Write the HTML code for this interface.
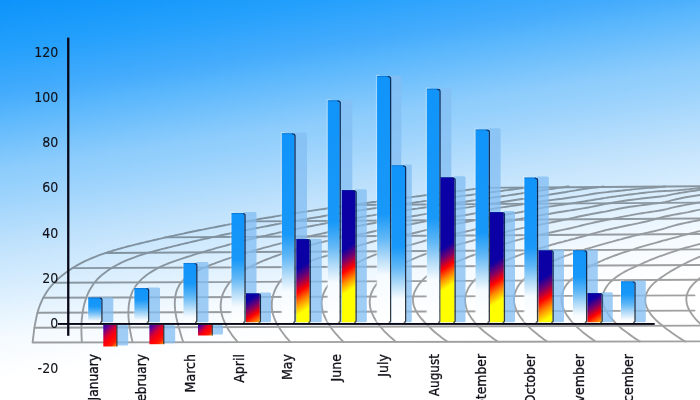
<!DOCTYPE html><html><head><meta charset="utf-8"><style>html,body{margin:0;padding:0;width:700px;height:400px;overflow:hidden;background:#fff}svg{display:block;will-change:transform}</style></head><body><svg width="700" height="400" viewBox="0 0 700 400"><defs><linearGradient id="bg" gradientUnits="userSpaceOnUse" x1="0" y1="0" x2="72.38" y2="482.54"><stop offset="0.0000" stop-color="rgb(12,147,250)"/><stop offset="0.1013" stop-color="rgb(36,160,252)"/><stop offset="0.1946" stop-color="rgb(70,172,252)"/><stop offset="0.2331" stop-color="rgb(88,182,252)"/><stop offset="0.3425" stop-color="rgb(140,204,252)"/><stop offset="0.3851" stop-color="rgb(152,209,252)"/><stop offset="0.4986" stop-color="rgb(192,226,252)"/><stop offset="0.6060" stop-color="rgb(222,240,254)"/><stop offset="0.6830" stop-color="rgb(244,250,255)"/><stop offset="0.7702" stop-color="rgb(255,255,255)"/></linearGradient><linearGradient id="gb" x1="0" y1="0" x2="0" y2="1"><stop offset="0" stop-color="#1094fa"/><stop offset="0.38" stop-color="#1697fa"/><stop offset="0.55" stop-color="#5ab5f8"/><stop offset="0.66" stop-color="#a8d6fa"/><stop offset="0.76" stop-color="#eef7ff"/><stop offset="1" stop-color="#ffffff"/></linearGradient><linearGradient id="gr" x1="0" y1="0" x2="0.12" y2="1"><stop offset="0" stop-color="#0a00a5"/><stop offset="0.42" stop-color="#0c00a2"/><stop offset="0.52" stop-color="#700070"/><stop offset="0.62" stop-color="#ff0000"/><stop offset="0.74" stop-color="#ff7a00"/><stop offset="0.84" stop-color="#ffff00"/><stop offset="1" stop-color="#ffff00"/></linearGradient><linearGradient id="gn" x1="0" y1="0" x2="1" y2="1"><stop offset="0" stop-color="#2a00a0"/><stop offset="0.35" stop-color="#c00040"/><stop offset="0.55" stop-color="#ff0000"/><stop offset="0.85" stop-color="#ff3000"/><stop offset="1" stop-color="#ffa000"/></linearGradient><linearGradient id="eg" x1="0" y1="0" x2="0" y2="1"><stop offset="0" stop-color="#0a2a5c"/><stop offset="0.5" stop-color="#142a48"/><stop offset="1" stop-color="#383838"/></linearGradient><linearGradient id="b1" gradientUnits="userSpaceOnUse" x1="0" y1="297.60" x2="0" y2="322.30"><stop offset="0" stop-color="#1094fa"/><stop offset="0.360" stop-color="#1898f8"/><stop offset="0.596" stop-color="#62b8f6"/><stop offset="0.785" stop-color="#b4dcf8"/><stop offset="0.950" stop-color="#f6fbff"/><stop offset="1" stop-color="#ffffff"/></linearGradient><linearGradient id="b2" gradientUnits="userSpaceOnUse" x1="0" y1="288.10" x2="0" y2="322.30"><stop offset="0" stop-color="#1094fa"/><stop offset="0.337" stop-color="#1898f8"/><stop offset="0.578" stop-color="#62b8f6"/><stop offset="0.770" stop-color="#b4dcf8"/><stop offset="0.939" stop-color="#f6fbff"/><stop offset="1" stop-color="#ffffff"/></linearGradient><linearGradient id="b3" gradientUnits="userSpaceOnUse" x1="0" y1="262.90" x2="0" y2="322.30"><stop offset="0" stop-color="#1094fa"/><stop offset="0.348" stop-color="#1898f8"/><stop offset="0.573" stop-color="#62b8f6"/><stop offset="0.753" stop-color="#b4dcf8"/><stop offset="0.911" stop-color="#f6fbff"/><stop offset="1" stop-color="#ffffff"/></linearGradient><linearGradient id="b4" gradientUnits="userSpaceOnUse" x1="0" y1="213.00" x2="0" y2="322.30"><stop offset="0" stop-color="#1094fa"/><stop offset="0.425" stop-color="#1898f8"/><stop offset="0.598" stop-color="#62b8f6"/><stop offset="0.737" stop-color="#b4dcf8"/><stop offset="0.858" stop-color="#f6fbff"/><stop offset="1" stop-color="#ffffff"/></linearGradient><linearGradient id="b5" gradientUnits="userSpaceOnUse" x1="0" y1="133.20" x2="0" y2="322.30"><stop offset="0" stop-color="#1094fa"/><stop offset="0.534" stop-color="#1898f8"/><stop offset="0.655" stop-color="#62b8f6"/><stop offset="0.751" stop-color="#b4dcf8"/><stop offset="0.836" stop-color="#f6fbff"/><stop offset="1" stop-color="#ffffff"/></linearGradient><linearGradient id="b6" gradientUnits="userSpaceOnUse" x1="0" y1="100.30" x2="0" y2="322.30"><stop offset="0" stop-color="#1094fa"/><stop offset="0.549" stop-color="#1898f8"/><stop offset="0.658" stop-color="#62b8f6"/><stop offset="0.745" stop-color="#b4dcf8"/><stop offset="0.821" stop-color="#f6fbff"/><stop offset="1" stop-color="#ffffff"/></linearGradient><linearGradient id="b7" gradientUnits="userSpaceOnUse" x1="0" y1="76.00" x2="0" y2="322.30"><stop offset="0" stop-color="#1094fa"/><stop offset="0.560" stop-color="#1898f8"/><stop offset="0.660" stop-color="#62b8f6"/><stop offset="0.740" stop-color="#b4dcf8"/><stop offset="0.810" stop-color="#f6fbff"/><stop offset="1" stop-color="#ffffff"/></linearGradient><linearGradient id="b8" gradientUnits="userSpaceOnUse" x1="0" y1="88.70" x2="0" y2="322.30"><stop offset="0" stop-color="#1094fa"/><stop offset="0.554" stop-color="#1898f8"/><stop offset="0.659" stop-color="#62b8f6"/><stop offset="0.742" stop-color="#b4dcf8"/><stop offset="0.816" stop-color="#f6fbff"/><stop offset="1" stop-color="#ffffff"/></linearGradient><linearGradient id="b9" gradientUnits="userSpaceOnUse" x1="0" y1="129.40" x2="0" y2="322.30"><stop offset="0" stop-color="#1094fa"/><stop offset="0.536" stop-color="#1898f8"/><stop offset="0.655" stop-color="#62b8f6"/><stop offset="0.751" stop-color="#b4dcf8"/><stop offset="0.834" stop-color="#f6fbff"/><stop offset="1" stop-color="#ffffff"/></linearGradient><linearGradient id="b10" gradientUnits="userSpaceOnUse" x1="0" y1="177.50" x2="0" y2="322.30"><stop offset="0" stop-color="#1094fa"/><stop offset="0.480" stop-color="#1898f8"/><stop offset="0.616" stop-color="#62b8f6"/><stop offset="0.725" stop-color="#b4dcf8"/><stop offset="0.820" stop-color="#f6fbff"/><stop offset="1" stop-color="#ffffff"/></linearGradient><linearGradient id="b11" gradientUnits="userSpaceOnUse" x1="0" y1="250.20" x2="0" y2="322.30"><stop offset="0" stop-color="#1094fa"/><stop offset="0.368" stop-color="#1898f8"/><stop offset="0.580" stop-color="#62b8f6"/><stop offset="0.749" stop-color="#b4dcf8"/><stop offset="0.897" stop-color="#f6fbff"/><stop offset="1" stop-color="#ffffff"/></linearGradient><linearGradient id="b12" gradientUnits="userSpaceOnUse" x1="0" y1="281.30" x2="0" y2="322.30"><stop offset="0" stop-color="#1094fa"/><stop offset="0.320" stop-color="#1898f8"/><stop offset="0.564" stop-color="#62b8f6"/><stop offset="0.759" stop-color="#b4dcf8"/><stop offset="0.930" stop-color="#f6fbff"/><stop offset="1" stop-color="#ffffff"/></linearGradient><linearGradient id="n13" gradientUnits="userSpaceOnUse" x1="103.30" y1="324.80" x2="120.75" y2="342.25"><stop offset="0" stop-color="#2000b0"/><stop offset="0.18" stop-color="#6a0090"/><stop offset="0.42" stop-color="#d80030"/><stop offset="0.6" stop-color="#ff0008"/><stop offset="0.82" stop-color="#ff1a00"/><stop offset="1" stop-color="#ff9a00"/></linearGradient><linearGradient id="n14" gradientUnits="userSpaceOnUse" x1="149.40" y1="324.80" x2="166.10" y2="341.50"><stop offset="0" stop-color="#2000b0"/><stop offset="0.18" stop-color="#6a0090"/><stop offset="0.42" stop-color="#d80030"/><stop offset="0.6" stop-color="#ff0008"/><stop offset="0.82" stop-color="#ff1a00"/><stop offset="1" stop-color="#ff9a00"/></linearGradient><linearGradient id="n15" gradientUnits="userSpaceOnUse" x1="198.00" y1="324.80" x2="210.25" y2="337.05"><stop offset="0" stop-color="#2000b0"/><stop offset="0.18" stop-color="#6a0090"/><stop offset="0.42" stop-color="#d80030"/><stop offset="0.6" stop-color="#ff0008"/><stop offset="0.82" stop-color="#ff1a00"/><stop offset="1" stop-color="#ff9a00"/></linearGradient><linearGradient id="r16" gradientUnits="userSpaceOnUse" x1="246.00" y1="293.20" x2="263.40" y2="319.96"><stop offset="0" stop-color="#0a00a5"/><stop offset="0.233" stop-color="#0c00a4"/><stop offset="0.469" stop-color="#78006c"/><stop offset="0.706" stop-color="#ff0000"/><stop offset="0.942" stop-color="#ff8c00"/><stop offset="1.000" stop-color="#ffff00"/><stop offset="1" stop-color="#ffff00"/></linearGradient><linearGradient id="r17" gradientUnits="userSpaceOnUse" x1="296.30" y1="239.10" x2="338.27" y2="303.67"><stop offset="0" stop-color="#0a00a5"/><stop offset="0.338" stop-color="#0c00a4"/><stop offset="0.463" stop-color="#78006c"/><stop offset="0.588" stop-color="#ff0000"/><stop offset="0.713" stop-color="#ff8c00"/><stop offset="0.838" stop-color="#ffff00"/><stop offset="1" stop-color="#ffff00"/></linearGradient><linearGradient id="r18" gradientUnits="userSpaceOnUse" x1="341.80" y1="190.00" x2="406.32" y2="289.27"><stop offset="0" stop-color="#0a00a5"/><stop offset="0.435" stop-color="#0c00a4"/><stop offset="0.513" stop-color="#78006c"/><stop offset="0.591" stop-color="#ff0000"/><stop offset="0.669" stop-color="#ff8c00"/><stop offset="0.747" stop-color="#ffff00"/><stop offset="1" stop-color="#ffff00"/></linearGradient><linearGradient id="b19" gradientUnits="userSpaceOnUse" x1="0" y1="165.20" x2="0" y2="322.30"><stop offset="0" stop-color="#1094fa"/><stop offset="0.520" stop-color="#1898f8"/><stop offset="0.652" stop-color="#62b8f6"/><stop offset="0.758" stop-color="#b4dcf8"/><stop offset="0.850" stop-color="#f6fbff"/><stop offset="1" stop-color="#ffffff"/></linearGradient><linearGradient id="r20" gradientUnits="userSpaceOnUse" x1="440.50" y1="177.20" x2="510.96" y2="285.60"><stop offset="0" stop-color="#0a00a5"/><stop offset="0.472" stop-color="#0c00a4"/><stop offset="0.540" stop-color="#78006c"/><stop offset="0.608" stop-color="#ff0000"/><stop offset="0.676" stop-color="#ff8c00"/><stop offset="0.744" stop-color="#ffff00"/><stop offset="1" stop-color="#ffff00"/></linearGradient><linearGradient id="r21" gradientUnits="userSpaceOnUse" x1="490.00" y1="212.00" x2="544.50" y2="295.85"><stop offset="0" stop-color="#0a00a5"/><stop offset="0.444" stop-color="#0c00a4"/><stop offset="0.532" stop-color="#78006c"/><stop offset="0.621" stop-color="#ff0000"/><stop offset="0.709" stop-color="#ff8c00"/><stop offset="0.797" stop-color="#ffff00"/><stop offset="1" stop-color="#ffff00"/></linearGradient><linearGradient id="r22" gradientUnits="userSpaceOnUse" x1="538.50" y1="250.30" x2="575.56" y2="307.31"><stop offset="0" stop-color="#0a00a5"/><stop offset="0.376" stop-color="#0c00a4"/><stop offset="0.511" stop-color="#78006c"/><stop offset="0.647" stop-color="#ff0000"/><stop offset="0.783" stop-color="#ff8c00"/><stop offset="0.918" stop-color="#ffff00"/><stop offset="1" stop-color="#ffff00"/></linearGradient><linearGradient id="r23" gradientUnits="userSpaceOnUse" x1="587.50" y1="293.00" x2="605.05" y2="319.99"><stop offset="0" stop-color="#0a00a5"/><stop offset="0.234" stop-color="#0c00a4"/><stop offset="0.469" stop-color="#78006c"/><stop offset="0.704" stop-color="#ff0000"/><stop offset="0.938" stop-color="#ff8c00"/><stop offset="1.000" stop-color="#ffff00"/><stop offset="1" stop-color="#ffff00"/></linearGradient></defs><rect x="0" y="0" width="700" height="400" fill="url(#bg)"/><g fill="none" stroke="#000" stroke-width="1.9" stroke-linecap="round" stroke-linejoin="round" opacity="0.37"><line x1="32.6" y1="342.44" x2="702.0" y2="341.40"/><line x1="34.5" y1="327.68" x2="702.0" y2="325.59"/><line x1="37.5" y1="312.77" x2="694.5" y2="310.62"/><line x1="43.3" y1="297.76" x2="694.5" y2="295.42"/><line x1="54.1" y1="282.78" x2="702.0" y2="279.74"/><line x1="72.4" y1="268.14" x2="702.0" y2="264.99"/><line x1="105.7" y1="252.93" x2="702.0" y2="249.39"/><line x1="166.1" y1="237.34" x2="702.0" y2="233.99"/><line x1="245.5" y1="221.48" x2="702.0" y2="218.49"/><line x1="351.6" y1="205.00" x2="702.0" y2="202.59"/><line x1="481.1" y1="187.87" x2="702.0" y2="186.29"/><path d="M32.7 341.7 L33.0 339.2 L33.3 336.7 L33.6 334.3 L33.9 331.7 L34.2 329.2 L34.6 326.7 L35.0 324.3 L35.5 321.8 L36.0 319.3 L36.5 316.8 L37.1 314.4 L37.7 312.0 L38.4 309.6 L39.2 307.3 L40.0 305.0 L41.3 302.0 L42.6 299.0 L44.1 296.2 L45.8 293.4 L47.5 290.8 L49.4 288.2 L51.5 285.7 L53.6 283.3 L55.8 281.0 L58.2 278.8 L60.6 276.7 L63.1 274.7 L65.6 272.7 L68.3 270.9 L70.9 269.1 L73.6 267.4 L76.4 265.7 L79.2 264.2 L82.1 262.7 L84.9 261.2 L87.9 259.9 L90.8 258.5 L93.8 257.3 L96.9 256.1 L99.2 255.2 L101.5 254.4 L103.8 253.6 L106.1 252.8 L108.5 252.0 L110.9 251.3 L113.2 250.5 L115.6 249.8 L118.0 249.1 L120.4 248.5 L122.8 247.8 L125.2 247.2 L127.6 246.5 L130.1 245.9 L132.5 245.3 L134.9 244.7 L137.3 244.1 L139.8 243.5 L142.2 242.9 L144.6 242.3 L147.0 241.7 L149.5 241.2 L151.9 240.6 L154.3 240.0 L156.7 239.5 L159.2 238.9 L161.6 238.4 L164.0 237.8 L166.4 237.3 L168.9 236.7 L171.3 236.2 L173.7 235.7 L176.1 235.1 L178.5 234.6 L181.0 234.1 L183.4 233.6 L185.8 233.0 L188.2 232.5 L190.6 232.0 L193.1 231.5 L195.5 231.0 L197.9 230.5 L200.3 230.0 L202.7 229.6 L205.1 229.1 L207.6 228.6 L210.0 228.1 L212.4 227.6 L214.8 227.2 L217.2 226.7 L219.6 226.2 L222.1 225.8 L224.5 225.3 L226.9 224.9 L229.3 224.4 L231.7 224.0 L234.1 223.5 L236.5 223.1 L239.0 222.7 L241.4 222.2 L243.8 221.8 L246.2 221.4 L248.6 220.9 L251.0 220.5 L253.5 220.1 L255.9 219.7 L258.3 219.3 L260.7 218.8 L263.1 218.4 L265.5 218.0 L268.8 217.5 L272.0 217.0 L275.2 216.4 L278.4 215.9 L281.6 215.4 L284.9 214.9 L288.1 214.3 L291.3 213.8 L294.5 213.3 L297.8 212.8 L301.0 212.3 L304.2 211.8 L307.4 211.4 L310.7 210.9 L313.9 210.4 L317.1 209.9 L320.4 209.4 L323.6 209.0 L326.8 208.5 L330.0 208.0 L332.5 207.7 L334.9 207.3 L337.3 207.0 L339.8 206.6 L342.2 206.3 L344.6 206.0 L347.0 205.6 L349.5 205.3 L351.9 205.0 L354.3 204.6 L356.8 204.3 L359.2 204.0 L361.6 203.6 L364.0 203.3 L366.5 203.0 L368.9 202.6 L371.4 202.3 L373.8 202.0 L376.2 201.7 L378.7 201.3 L381.1 201.0 L383.5 200.7 L386.0 200.4 L388.4 200.1 L390.9 199.7 L393.3 199.4 L395.7 199.1 L398.2 198.8 L400.6 198.5 L403.1 198.1 L405.5 197.8 L408.0 197.5 L410.4 197.2 L412.9 196.9 L415.3 196.6 L417.8 196.3 L420.2 196.0 L422.7 195.6 L425.1 195.3 L427.6 195.0 L430.1 194.7 L432.5 194.4 L435.0 194.1 L437.4 193.8 L439.9 193.5 L442.4 193.2 L444.8 192.8 L447.3 192.5 L449.8 192.2 L452.2 191.9 L454.7 191.6 L457.2 191.3 L459.6 191.0 L462.1 190.7 L464.6 190.4 L468.8 189.8 L471.3 189.4 L473.9 189.0 L476.5 188.6 L479.1 188.2 L481.6 187.8 L484.2 187.4 L486.8 187.0 L489.4 186.6"/><path d="M81.9 342.0 L81.7 339.6 L81.6 337.1 L81.5 334.5 L81.4 332.0 L81.4 329.5 L81.4 326.9 L81.5 324.3 L81.6 321.7 L81.8 319.2 L82.1 316.6 L82.4 314.1 L82.8 311.5 L83.2 309.0 L83.7 306.6 L84.3 304.1 L85.0 301.7 L85.7 299.3 L86.6 297.0 L87.5 294.7 L88.8 291.7 L90.3 288.9 L92.0 286.2 L93.8 283.5 L95.8 281.1 L97.9 278.7 L100.2 276.5 L102.6 274.4 L105.2 272.4 L107.8 270.5 L110.5 268.7 L112.6 267.4 L114.8 266.2 L116.9 265.0 L119.1 263.8 L121.4 262.7 L123.6 261.7 L125.9 260.7 L128.2 259.7 L130.5 258.8 L132.8 257.9 L135.2 257.1 L137.5 256.2 L139.9 255.4 L142.2 254.7 L144.6 253.9 L147.0 253.2 L149.4 252.5 L151.8 251.8 L154.3 251.1 L156.7 250.5 L159.1 249.8 L161.5 249.2 L164.0 248.6 L166.4 248.0 L168.9 247.4 L171.3 246.8 L173.7 246.2 L176.2 245.6 L178.6 245.0 L181.0 244.4 L183.5 243.8 L185.9 243.2 L188.4 242.7 L190.8 242.1 L193.2 241.5 L195.7 241.0 L198.1 240.4 L200.5 239.8 L203.0 239.3 L205.4 238.7 L207.9 238.2 L210.3 237.7 L212.7 237.1 L215.2 236.6 L217.6 236.1 L220.1 235.5 L222.5 235.0 L224.9 234.5 L227.4 234.0 L229.8 233.5 L232.3 232.9 L234.7 232.4 L237.1 231.9 L239.6 231.4 L242.0 230.9 L244.5 230.5 L246.9 230.0 L249.3 229.5 L251.8 229.0 L254.2 228.5 L256.7 228.0 L259.1 227.6 L261.6 227.1 L264.0 226.6 L266.4 226.2 L268.9 225.7 L271.3 225.2 L273.8 224.8 L276.2 224.3 L278.7 223.9 L281.1 223.4 L283.6 223.0 L286.0 222.6 L288.4 222.1 L290.9 221.7 L293.3 221.3 L295.8 220.8 L298.2 220.4 L300.7 220.0 L303.1 219.5 L305.6 219.1 L308.0 218.7 L310.5 218.3 L312.9 217.9 L315.4 217.5 L317.8 217.1 L320.3 216.7 L322.7 216.2 L325.2 215.8 L327.6 215.4 L330.1 215.0 L332.5 214.7 L335.0 214.3 L337.4 213.9 L339.9 213.5 L342.3 213.1 L344.8 212.7 L347.2 212.3 L349.7 211.9 L352.1 211.6 L354.6 211.2 L357.1 210.8 L359.5 210.4 L362.0 210.1 L364.4 209.7 L366.9 209.3 L369.3 209.0 L371.8 208.6 L374.3 208.2 L376.7 207.9 L379.2 207.5 L381.6 207.2 L384.1 206.8 L386.5 206.4 L389.0 206.1 L391.5 205.7 L393.9 205.4 L396.4 205.0 L398.9 204.7 L401.3 204.3 L403.8 204.0 L406.2 203.6 L408.7 203.3 L411.2 203.0 L413.6 202.6 L416.1 202.3 L418.6 201.9 L421.0 201.6 L423.5 201.2 L426.0 200.9 L428.4 200.6 L430.9 200.2 L433.4 199.9 L435.8 199.6 L438.3 199.2 L440.8 198.9 L443.2 198.6 L445.7 198.2 L448.2 197.9 L450.7 197.6 L453.1 197.3 L455.6 196.9 L458.1 196.6 L460.6 196.3 L463.0 195.9 L465.5 195.6 L468.0 195.3 L470.5 195.0 L472.9 194.6 L475.4 194.3 L477.9 194.0 L480.4 193.7 L482.9 193.3 L485.3 193.0 L487.8 192.7 L490.3 192.4 L492.8 192.0 L495.3 191.7 L497.7 191.4 L500.2 191.1 L502.7 190.8 L505.2 190.4 L507.7 190.1 L510.2 189.8 L512.7 189.5 L515.1 189.1 L517.8 188.7 L520.4 188.4 L523.1 188.0 L525.7 187.6 L528.4 187.2 L531.1 186.8 L533.8 186.4"/><path d="M132.4 341.5 L131.7 338.6 L131.1 335.7 L130.5 332.8 L130.0 329.8 L129.5 326.7 L129.1 323.6 L128.8 320.5 L128.5 317.4 L128.4 314.3 L128.4 311.2 L128.6 308.1 L128.8 305.1 L129.3 302.1 L129.9 299.2 L130.6 296.4 L131.6 293.6 L132.7 291.0 L134.1 288.5 L135.7 286.0 L137.4 283.7 L139.4 281.5 L141.4 279.4 L143.7 277.4 L146.0 275.5 L148.4 273.8 L150.9 272.1 L153.4 270.6 L156.0 269.1 L158.7 267.7 L161.4 266.4 L164.1 265.2 L166.9 264.0 L169.7 262.9 L172.6 261.8 L175.4 260.8 L178.3 259.8 L181.2 258.9 L184.1 257.9 L187.0 257.0 L189.9 256.1 L192.8 255.1 L195.7 254.2 L198.6 253.4 L201.5 252.5 L204.4 251.6 L207.3 250.7 L210.2 249.9 L213.1 249.1 L216.0 248.2 L218.9 247.4 L221.8 246.6 L224.8 245.8 L227.7 245.0 L230.6 244.2 L233.5 243.5 L236.4 242.7 L239.4 242.0 L242.3 241.2 L245.2 240.5 L248.2 239.7 L251.1 239.0 L254.0 238.3 L257.0 237.6 L259.9 236.9 L262.8 236.2 L265.8 235.6 L268.7 234.9 L271.7 234.2 L274.6 233.6 L277.6 232.9 L280.5 232.3 L283.4 231.6 L286.4 231.0 L289.3 230.4 L292.3 229.8 L295.2 229.2 L298.2 228.6 L301.2 228.0 L304.1 227.4 L307.1 226.8 L310.0 226.3 L313.0 225.7 L316.0 225.1 L318.9 224.6 L321.9 224.0 L324.8 223.5 L327.8 222.9 L330.8 222.4 L333.7 221.9 L336.7 221.3 L339.7 220.8 L342.6 220.3 L345.6 219.8 L348.6 219.3 L351.6 218.8 L354.5 218.3 L357.5 217.8 L360.5 217.3 L363.5 216.8 L366.4 216.3 L369.4 215.8 L372.4 215.4 L375.4 214.9 L378.3 214.4 L381.3 214.0 L384.3 213.5 L387.3 213.0 L390.3 212.6 L393.2 212.1 L396.2 211.7 L399.2 211.2 L402.2 210.8 L405.2 210.3 L408.2 209.9 L411.2 209.4 L414.1 209.0 L417.1 208.6 L420.1 208.1 L423.1 207.7 L426.1 207.3 L429.1 206.8 L432.1 206.4 L435.0 206.0 L438.0 205.5 L441.0 205.1 L444.0 204.7 L447.0 204.2 L450.0 203.8 L453.0 203.4 L456.0 203.0 L459.0 202.5 L461.9 202.1 L464.9 201.7 L467.9 201.2 L470.9 200.8 L473.9 200.4 L476.9 200.0 L479.9 199.5 L482.9 199.1 L485.9 198.7 L488.9 198.2 L491.8 197.8 L494.8 197.3 L497.8 196.9 L500.8 196.5 L503.8 196.0 L506.8 195.6 L509.8 195.1 L512.8 194.7 L517.5 194.0 L520.0 193.6 L522.5 193.2 L525.0 192.8 L527.5 192.5 L530.0 192.1 L532.5 191.7 L535.1 191.3 L537.6 191.0 L540.1 190.6 L542.7 190.2 L545.3 189.8 L547.9 189.4 L550.4 189.1 L553.0 188.7 L555.6 188.3 L558.2 187.9 L560.9 187.6 L563.5 187.2 L566.1 186.8 L568.8 186.4"/><path d="M183.0 341.6 L182.2 338.9 L181.3 336.0 L180.4 333.0 L179.5 329.8 L178.8 327.4 L178.1 325.0 L177.5 322.5 L176.9 319.9 L176.3 317.4 L175.9 314.8 L175.5 312.3 L175.1 309.7 L174.9 307.2 L174.8 304.7 L174.8 302.3 L175.0 299.1 L175.4 296.0 L176.0 293.0 L176.9 290.1 L178.1 287.4 L179.5 284.8 L181.1 282.5 L183.1 280.3 L185.2 278.3 L187.6 276.4 L190.1 274.7 L192.8 273.1 L195.6 271.6 L198.5 270.1 L201.4 268.8 L203.7 267.8 L206.0 266.9 L208.2 265.9 L211.3 264.7 L214.3 263.6 L217.3 262.4 L220.4 261.3 L223.5 260.2 L226.5 259.2 L229.6 258.1 L232.6 257.1 L235.7 256.1 L238.8 255.1 L241.9 254.2 L245.0 253.3 L248.0 252.3 L251.1 251.4 L254.2 250.5 L257.3 249.7 L260.4 248.8 L263.5 247.9 L266.6 247.1 L269.7 246.3 L272.8 245.4 L275.9 244.6 L279.0 243.8 L282.1 243.0 L285.2 242.2 L288.3 241.4 L291.5 240.7 L294.6 239.9 L297.7 239.1 L300.8 238.4 L303.9 237.6 L307.1 236.9 L310.2 236.2 L313.3 235.5 L316.4 234.8 L319.6 234.1 L322.7 233.4 L325.8 232.7 L329.0 232.0 L332.1 231.4 L335.2 230.7 L338.4 230.0 L341.5 229.4 L344.6 228.7 L347.8 228.1 L350.9 227.5 L354.1 226.9 L357.2 226.2 L360.4 225.6 L363.5 225.0 L366.7 224.4 L369.8 223.8 L373.0 223.2 L376.1 222.6 L379.3 222.1 L382.4 221.5 L385.6 220.9 L388.7 220.4 L391.9 219.8 L395.0 219.2 L398.2 218.7 L401.4 218.1 L404.5 217.6 L407.7 217.1 L410.8 216.5 L414.0 216.0 L417.2 215.5 L420.3 214.9 L423.5 214.4 L426.6 213.9 L429.8 213.4 L433.0 212.9 L436.1 212.4 L439.3 211.8 L442.5 211.3 L445.6 210.8 L448.8 210.3 L452.0 209.8 L455.2 209.3 L458.3 208.8 L461.5 208.3 L464.7 207.8 L467.8 207.4 L471.0 206.9 L474.2 206.4 L477.3 205.9 L480.5 205.4 L483.7 204.9 L486.9 204.4 L490.0 203.9 L493.2 203.4 L496.4 203.0 L499.5 202.5 L502.7 202.0 L505.9 201.5 L509.1 201.0 L512.2 200.5 L515.4 200.0 L518.6 199.5 L521.7 199.0 L524.9 198.6 L528.1 198.1 L531.2 197.6 L534.4 197.1 L537.6 196.6 L540.8 196.1 L543.9 195.6 L547.1 195.1 L550.3 194.5 L553.4 194.0 L556.6 193.5 L559.8 193.0 L562.9 192.5 L566.1 192.0 L569.2 191.4 L572.4 190.9 L575.6 190.4 L578.7 189.8 L581.9 189.3 L585.1 188.8 L587.6 188.5 L590.2 188.1 L592.8 187.8 L595.5 187.5 L598.1 187.2 L600.7 186.9 L603.4 186.5"/><path d="M237.3 341.6 L235.3 339.2 L233.4 336.9 L231.7 334.6 L230.2 332.3 L228.7 330.0 L227.5 327.8 L226.3 325.7 L224.9 322.9 L223.7 320.1 L222.7 317.5 L221.9 314.9 L221.3 312.4 L220.9 309.8 L220.7 307.3 L220.7 304.3 L221.0 301.3 L221.5 298.3 L222.4 295.4 L223.2 293.1 L224.3 290.8 L225.5 288.5 L226.9 286.2 L228.4 284.0 L230.2 281.8 L232.1 279.7 L234.2 277.6 L236.5 275.6 L239.0 273.6 L241.0 272.2 L243.2 270.8 L245.4 269.5 L247.7 268.2 L250.1 266.9 L252.6 265.6 L255.3 264.3 L257.9 263.1 L260.7 261.9 L263.6 260.7 L266.5 259.5 L269.5 258.4 L272.6 257.2 L275.8 256.0 L279.0 254.9 L282.3 253.7 L285.7 252.6 L289.1 251.4 L292.6 250.2 L295.0 249.5 L297.4 248.8 L299.9 248.1 L302.4 247.5 L304.9 246.7 L307.4 246.0 L309.9 245.3 L312.5 244.6 L315.1 243.9 L317.8 243.2 L320.4 242.5 L323.2 241.9 L325.9 241.2 L328.7 240.6 L331.5 240.0 L334.4 239.4 L337.3 238.8 L340.2 238.2 L343.1 237.6 L346.1 237.0 L349.1 236.5 L352.2 235.9 L355.2 235.3 L358.3 234.7 L361.5 234.0 L364.6 233.4 L367.8 232.7 L371.0 232.0 L374.2 231.3 L377.5 230.5 L380.8 229.8 L384.1 229.0 L387.4 228.2 L390.8 227.4 L394.3 226.9 L397.8 226.4 L401.3 225.8 L404.8 225.3 L408.4 224.6 L412.0 224.0 L415.6 223.3 L419.2 222.6 L422.9 221.8 L426.6 221.0 L430.3 220.1 L434.0 219.3 L437.9 218.5 L441.8 218.0 L445.9 217.6 L449.9 217.2 L453.9 216.7 L457.9 216.2 L462.0 215.6 L466.0 215.0 L470.0 214.3 L474.0 213.5 L478.0 212.7 L482.0 211.7 L485.9 210.7 L489.8 209.5 L493.8 208.8 L497.8 208.0 L502.0 207.4 L506.3 206.8 L510.6 206.1 L515.0 205.5 L519.5 204.8 L524.0 204.1 L528.7 203.3 L533.4 202.5 L538.2 201.7 L540.7 201.4 L543.1 201.1 L545.5 200.8 L548.0 200.5 L552.8 199.9 L557.6 199.3 L562.4 198.7 L567.1 198.0 L571.9 197.3 L576.6 196.6 L581.4 195.9 L586.1 195.1 L590.8 194.3 L595.3 193.5 L599.8 192.9 L604.6 192.4 L607.1 192.1 L609.5 191.8 L612.0 191.5 L614.6 191.3 L617.1 191.0 L619.7 190.7 L622.2 190.5 L624.8 190.2 L627.5 189.9 L630.1 189.7 L632.7 189.4 L635.4 189.1 L638.1 188.9 L640.8 188.6 L643.6 188.3 L646.3 188.1 L649.0 187.9 L651.7 187.7 L654.4 187.5 L657.2 187.3 L659.9 187.0 L662.7 186.8 L665.4 186.5"/><path d="M290.0 341.6 L287.8 339.2 L285.8 336.8 L284.0 334.5 L282.3 332.2 L280.7 330.0 L279.3 327.8 L278.0 325.7 L276.4 322.9 L275.1 320.2 L274.1 317.6 L273.2 315.0 L272.5 312.5 L272.1 310.0 L271.8 307.5 L271.8 304.4 L271.9 301.4 L272.4 298.4 L273.0 295.5 L274.0 292.6 L274.9 290.3 L275.9 288.0 L277.2 285.7 L278.6 283.4 L280.1 281.2 L281.9 279.1 L283.9 277.0 L286.0 275.0 L288.4 273.0 L291.0 271.2 L293.1 269.8 L295.3 268.5 L297.6 267.2 L300.0 265.9 L302.5 264.7 L305.1 263.4 L307.8 262.3 L310.6 261.1 L313.4 259.9 L316.4 258.8 L319.5 257.8 L322.8 256.9 L326.2 256.0 L329.5 255.0 L332.9 253.8 L336.2 252.7 L339.7 251.5 L343.2 250.4 L345.5 249.6 L347.9 248.8 L350.4 248.1 L352.9 247.3 L355.4 246.6 L357.9 245.8 L360.5 245.0 L363.0 244.3 L365.7 243.5 L368.3 242.8 L371.0 242.0 L373.7 241.3 L376.4 240.6 L379.2 239.9 L382.0 239.2 L384.8 238.6 L387.7 237.9 L390.6 237.3 L393.5 236.8 L396.5 236.4 L399.6 235.9 L402.7 235.3 L405.7 234.8 L408.9 234.1 L412.0 233.5 L415.2 232.7 L418.3 232.0 L421.6 231.2 L424.8 230.4 L428.0 229.6 L431.3 228.8 L434.6 227.9 L437.8 227.0 L441.2 226.3 L444.6 225.7 L448.1 225.1 L451.6 224.5 L455.1 223.9 L458.7 223.3 L462.4 222.7 L466.0 222.0 L469.7 221.3 L473.4 220.6 L477.2 219.8 L481.0 219.0 L484.8 218.1 L488.7 217.2 L492.7 216.5 L496.8 215.9 L500.8 215.2 L504.8 214.6 L508.9 214.0 L512.9 213.3 L517.0 212.7 L521.1 212.0 L525.1 211.2 L529.1 210.4 L533.1 209.6 L537.0 208.7 L541.0 208.0 L545.0 207.3 L549.2 206.6 L553.5 206.0 L557.8 205.3 L562.2 204.7 L566.7 204.0 L571.3 203.4 L575.9 202.7 L580.5 202.0 L585.3 201.2 L587.7 200.8 L590.2 200.4 L592.7 200.0 L595.3 199.5 L597.8 199.1 L600.4 198.7 L602.9 198.2 L605.4 197.9 L607.9 197.5 L610.3 197.1 L612.8 196.8 L615.2 196.5 L617.7 196.1 L620.1 195.8 L622.6 195.5 L625.1 195.1 L627.5 194.8 L630.0 194.5 L632.5 194.2 L634.9 193.9 L637.4 193.6 L639.9 193.3 L642.4 193.0 L644.9 192.7 L647.4 192.4 L649.8 192.1 L652.3 191.9 L654.9 191.6 L657.4 191.4 L659.9 191.2 L662.4 191.1 L665.0 191.0 L667.6 190.9 L670.3 190.8 L673.0 190.6 L675.7 190.4 L678.4 190.2 L681.1 189.9 L683.8 189.7 L686.5 189.4 L689.2 189.2 L691.9 188.9 L694.6 188.6 L697.3 188.3 L700.0 188.0"/><path d="M343.6 342.0 L341.2 339.6 L338.9 337.2 L336.9 334.9 L334.9 332.7 L333.2 330.5 L331.5 328.3 L330.0 326.1 L328.7 324.0 L327.0 321.3 L325.6 318.6 L324.4 316.0 L323.4 313.5 L322.7 311.0 L322.1 308.5 L321.7 305.6 L321.6 302.7 L321.8 299.8 L322.4 297.0 L323.2 294.3 L324.3 291.7 L325.7 289.0 L327.3 286.5 L328.8 284.5 L330.4 282.5 L332.2 280.4 L334.1 278.4 L336.3 276.4 L338.7 274.5 L341.2 272.6 L343.2 271.1 L345.3 269.7 L347.5 268.3 L349.7 266.9 L352.1 265.5 L354.5 264.2 L357.1 262.8 L359.7 261.5 L362.4 260.2 L365.2 258.9 L368.0 257.6 L371.0 256.3 L374.1 255.1 L377.2 254.0 L380.5 252.9 L383.8 251.8 L387.3 250.9 L390.8 250.0 L393.2 249.4 L395.6 248.8 L398.0 248.2 L400.5 247.6 L403.0 246.9 L405.5 246.2 L408.1 245.5 L410.7 244.8 L413.3 244.1 L416.0 243.3 L418.6 242.6 L421.4 241.8 L424.1 241.0 L426.9 240.2 L429.7 239.4 L432.6 238.7 L435.5 237.9 L438.4 237.2 L441.3 236.6 L444.3 236.0 L447.3 235.4 L450.3 234.8 L453.4 234.2 L456.5 233.5 L459.6 232.9 L462.8 232.2 L466.0 231.5 L469.3 230.8 L472.5 230.0 L475.9 229.3 L479.2 228.5 L482.6 227.7 L486.1 226.9 L489.5 226.1 L493.0 225.3 L496.6 224.5 L500.1 223.6 L503.7 222.8 L507.4 221.9 L511.1 221.0 L514.9 220.0 L518.7 219.2 L522.5 218.4 L526.3 217.7 L530.2 217.0 L534.0 216.4 L538.0 215.7 L541.9 215.0 L545.9 214.3 L549.9 213.7 L553.9 213.0 L558.0 212.3 L562.0 211.7 L566.2 211.0 L570.3 210.4 L574.4 209.7 L578.6 209.1 L582.9 208.4 L587.1 207.7 L591.4 206.9 L595.8 206.0 L600.3 205.0 L604.8 204.1 L609.4 203.2 L613.9 202.5 L618.5 201.7 L623.1 201.0 L627.7 200.3 L632.3 199.7 L637.0 199.1 L641.6 198.5 L646.3 198.0 L651.0 197.5 L655.7 197.0 L660.4 196.5 L665.1 195.9 L669.9 194.9 L672.3 194.4 L674.8 193.9 L677.2 193.5 L679.7 193.0 L682.2 192.6 L684.7 192.2 L687.2 191.8 L689.8 191.4 L692.3 191.0 L694.9 190.7 L697.4 190.3 L700.0 190.0"/><path d="M395.7 341.6 L393.0 339.3 L390.4 337.1 L388.1 334.9 L385.9 332.8 L383.8 330.6 L382.0 328.5 L380.2 326.5 L378.6 324.4 L377.2 322.4 L375.4 319.8 L373.9 317.2 L372.7 314.7 L371.6 312.3 L370.8 309.8 L370.2 307.5 L369.8 304.5 L369.7 301.7 L369.9 298.9 L370.4 296.1 L371.2 293.5 L372.4 290.8 L373.7 288.2 L375.4 285.7 L376.9 283.7 L378.5 281.7 L380.4 279.7 L382.5 277.7 L384.7 275.8 L387.1 273.9 L389.6 272.0 L391.7 270.6 L393.8 269.2 L396.0 267.8 L398.3 266.5 L400.7 265.1 L403.1 263.8 L405.7 262.5 L408.3 261.2 L411.1 259.9 L413.9 258.7 L416.8 257.4 L419.8 256.2 L422.9 255.0 L426.0 253.8 L429.3 252.7 L432.6 251.6 L436.0 250.6 L439.5 249.7 L443.1 248.8 L445.5 248.2 L447.9 247.5 L450.4 246.9 L452.9 246.2 L455.5 245.4 L458.0 244.7 L460.7 244.0 L463.3 243.2 L466.0 242.5 L468.7 241.7 L471.5 241.0 L474.3 240.2 L477.1 239.4 L480.0 238.7 L482.9 237.9 L485.9 237.1 L488.9 236.3 L491.9 235.5 L494.9 234.7 L498.0 233.9 L501.1 233.1 L504.3 232.3 L507.5 231.5 L510.8 230.7 L514.2 229.9 L517.6 229.1 L521.0 228.4 L524.4 227.7 L527.8 227.0 L531.2 226.4 L534.7 225.7 L538.2 225.0 L541.8 224.3 L545.3 223.6 L548.9 222.9 L552.5 222.2 L556.1 221.5 L559.7 220.8 L563.3 220.0 L566.9 219.2 L570.5 218.4 L574.1 217.6 L577.8 216.8 L581.5 216.0 L585.3 215.2 L589.2 214.5 L593.1 213.8 L597.1 213.0 L601.1 212.3 L605.2 211.6 L609.3 210.8 L613.3 209.9 L617.4 209.0 L621.5 208.2 L625.7 207.5 L630.0 206.8 L634.3 206.2 L638.8 205.6 L643.2 205.0 L647.7 204.5 L652.3 203.9 L657.0 203.4 L661.8 202.7 L664.2 202.3 L666.7 201.7 L669.1 201.1 L671.4 200.4 L676.2 199.3 L680.9 198.3 L685.6 197.3 L690.4 196.5 L695.2 195.7 L700.0 195.0"/><path d="M447.0 341.4 L445.0 340.0 L442.1 337.9 L439.4 335.8 L436.8 333.8 L434.4 331.7 L432.2 329.7 L430.1 327.7 L428.1 325.7 L426.2 323.8 L424.3 321.9 L422.6 320.0 L420.5 317.6 L418.7 315.2 L417.1 312.9 L415.8 310.5 L414.7 308.2 L413.7 305.3 L413.1 302.5 L412.9 299.7 L413.2 296.9 L413.8 294.2 L414.7 291.5 L416.1 288.9 L417.6 286.3 L419.1 284.2 L420.8 282.2 L422.6 280.2 L424.6 278.2 L426.8 276.3 L429.2 274.5 L431.7 272.7 L434.5 271.0 L436.6 269.8 L438.9 268.6 L441.3 267.5 L443.7 266.5 L446.2 265.5 L448.9 264.5 L451.5 263.6 L454.3 262.5 L457.1 261.5 L460.0 260.3 L463.0 259.2 L466.0 258.0 L469.1 256.7 L472.3 255.5 L475.5 254.3 L478.9 253.0 L482.3 251.7 L484.6 250.9 L487.0 250.0 L489.4 249.2 L491.8 248.3 L494.3 247.4 L496.8 246.6 L499.3 245.7 L501.9 244.9 L504.5 244.0 L507.2 243.1 L509.9 242.3 L512.6 241.4 L515.5 240.6 L518.3 239.8 L521.2 239.1 L524.1 238.4 L527.1 237.7 L530.1 237.0 L533.1 236.3 L536.1 235.7 L539.2 235.0 L542.3 234.3 L545.5 233.6 L548.7 232.9 L551.9 232.2 L555.1 231.5 L558.4 230.8 L561.6 230.1 L564.9 229.4 L568.2 228.7 L571.6 228.0 L574.9 227.2 L578.2 226.4 L581.5 225.5 L584.8 224.7 L588.2 223.9 L591.7 223.1 L595.2 222.3 L598.9 221.5 L602.6 220.8 L606.3 220.0 L610.1 219.3 L614.0 218.5 L617.9 217.7 L621.8 216.9 L625.8 216.1 L629.8 215.4 L633.8 214.6 L637.9 213.9 L641.9 213.3 L646.0 212.6 L650.1 212.0 L654.3 211.4 L658.5 210.8 L662.7 210.0 L666.9 209.1 L671.2 207.9 L675.5 206.9 L679.9 206.0 L684.3 205.1 L688.7 204.3 L693.2 203.5 L697.7 202.8 L700.0 202.5"/><path d="M497.1 341.1 L495.0 339.7 L492.0 337.6 L489.2 335.5 L486.6 333.5 L484.1 331.5 L481.8 329.5 L479.7 327.5 L477.7 325.6 L475.9 323.6 L474.2 321.7 L472.2 319.2 L470.5 316.7 L469.0 314.3 L467.8 311.9 L466.8 309.5 L466.1 307.2 L465.4 304.3 L465.1 301.5 L465.1 298.8 L465.4 296.1 L466.1 293.4 L467.1 290.8 L468.3 288.3 L469.9 285.8 L471.7 283.3 L473.4 281.4 L475.2 279.5 L477.2 277.6 L479.4 275.7 L481.8 273.9 L484.3 272.1 L487.0 270.3 L489.2 269.0 L491.4 267.7 L493.7 266.4 L496.1 265.1 L498.7 263.8 L501.2 262.6 L503.9 261.3 L506.7 260.1 L509.6 258.9 L512.5 257.7 L515.6 256.5 L518.7 255.3 L521.9 254.1 L525.2 253.0 L528.6 251.8 L532.1 250.7 L534.5 249.9 L536.8 249.2 L539.3 248.4 L541.8 247.7 L544.3 247.0 L546.8 246.2 L549.4 245.5 L552.0 244.7 L554.6 244.0 L557.3 243.2 L560.0 242.5 L562.7 241.8 L565.5 241.0 L568.3 240.3 L571.1 239.5 L574.0 238.8 L576.9 238.0 L579.8 237.2 L582.8 236.5 L585.8 235.7 L588.8 234.9 L591.8 234.0 L594.9 233.1 L598.1 232.2 L601.3 231.3 L604.5 230.5 L607.8 229.7 L611.1 229.0 L614.5 228.2 L617.9 227.5 L621.3 226.7 L624.8 226.0 L628.2 225.3 L631.8 224.6 L635.3 223.9 L638.9 223.1 L642.5 222.3 L646.2 221.5 L649.9 220.6 L653.7 219.6 L657.5 218.5 L661.3 217.5 L665.1 216.5 L668.9 215.7 L672.8 214.9 L676.6 214.2 L680.5 213.5 L684.4 212.9 L688.3 212.1 L692.2 211.2 L696.2 210.4 L700.2 209.6"/><path d="M546.2 340.9 L544.1 339.5 L541.2 337.3 L538.5 335.2 L535.9 333.1 L533.4 331.1 L531.2 329.1 L529.0 327.1 L527.1 325.1 L525.3 323.1 L523.6 321.2 L521.6 318.7 L519.8 316.2 L518.3 313.8 L517.0 311.4 L516.0 309.1 L515.0 306.2 L514.3 303.4 L514.0 300.6 L514.1 297.9 L514.4 295.3 L515.1 292.7 L516.0 290.1 L517.3 287.6 L518.8 285.1 L520.7 282.7 L522.4 280.8 L524.2 278.9 L526.3 277.1 L528.5 275.2 L530.9 273.4 L533.4 271.6 L536.2 269.9 L538.3 268.6 L540.6 267.3 L542.9 266.0 L545.3 264.7 L547.9 263.5 L550.5 262.2 L553.2 261.0 L556.0 259.8 L558.8 258.6 L561.8 257.4 L564.8 256.2 L568.0 255.1 L571.2 253.9 L574.5 252.8 L577.9 251.6 L581.4 250.5 L583.7 249.8 L586.1 249.0 L588.5 248.3 L591.0 247.6 L593.5 246.8 L596.1 246.1 L598.6 245.4 L601.3 244.6 L603.9 243.9 L606.6 243.1 L609.4 242.3 L612.2 241.6 L615.0 240.8 L617.8 240.0 L620.7 239.3 L623.7 238.5 L626.7 237.7 L629.7 237.0 L632.7 236.2 L635.8 235.4 L639.0 234.7 L642.1 233.9 L645.3 233.2 L648.5 232.5 L651.7 231.7 L655.0 231.0 L658.3 230.2 L661.6 229.3 L664.8 228.4 L668.1 227.3 L671.4 226.3 L674.8 225.4 L678.2 224.5 L681.7 223.7 L685.3 222.9 L688.9 222.2 L692.6 221.4 L696.3 220.7 L700.0 220.0 L701.9 219.7"/><path d="M594.8 341.0 L592.7 339.5 L590.7 338.1 L587.8 336.0 L585.1 333.9 L582.5 331.9 L580.2 329.9 L577.9 327.9 L575.9 325.9 L573.9 323.9 L572.2 322.0 L570.5 320.1 L568.6 317.6 L566.9 315.2 L565.4 312.8 L564.2 310.5 L563.2 308.2 L562.3 305.3 L561.7 302.5 L561.5 299.8 L561.6 297.2 L562.0 294.6 L562.7 292.0 L563.7 289.5 L565.0 287.1 L566.6 284.6 L568.5 282.3 L570.3 280.4 L572.2 278.6 L574.2 276.7 L576.5 274.9 L578.9 273.2 L581.5 271.4 L584.3 269.7 L586.5 268.4 L588.7 267.1 L591.1 265.9 L593.5 264.6 L596.1 263.4 L598.7 262.2 L601.4 261.0 L604.2 259.7 L607.0 258.5 L610.0 257.4 L613.1 256.2 L616.3 255.0 L619.5 253.9 L622.9 252.7 L626.3 251.5 L628.7 250.8 L631.1 250.0 L633.5 249.3 L636.0 248.5 L638.5 247.7 L641.0 246.9 L643.6 246.2 L646.3 245.4 L649.0 244.6 L651.7 243.8 L654.5 243.1 L657.3 242.3 L660.2 241.5 L663.0 240.7 L665.9 240.0 L668.9 239.2 L671.8 238.4 L674.8 237.6 L677.8 236.8 L680.8 235.9 L683.9 235.1 L687.1 234.3 L690.3 233.4 L693.5 232.6 L696.7 231.8 L700.0 231.1 L701.7 230.7"/><path d="M639.8 341.4 L637.6 340.0 L635.4 338.6 L633.4 337.2 L630.4 335.1 L627.6 333.1 L624.9 331.1 L622.4 329.2 L620.1 327.2 L617.9 325.3 L615.9 323.4 L614.0 321.4 L612.3 319.5 L610.2 317.0 L608.4 314.6 L606.9 312.2 L605.5 309.8 L604.4 307.5 L603.4 304.7 L602.8 302.0 L602.6 299.3 L602.7 296.7 L603.1 294.2 L603.9 291.7 L605.1 289.2 L606.5 286.8 L608.2 284.5 L610.2 282.2 L612.1 280.5 L614.1 278.7 L616.3 277.0 L618.7 275.4 L621.2 273.8 L623.9 272.2 L626.8 270.6 L629.0 269.5 L631.4 268.4 L633.8 267.3 L636.3 266.2 L638.9 265.0 L641.6 263.8 L644.3 262.5 L647.2 261.3 L650.1 260.0 L653.1 258.8 L656.2 257.6 L659.4 256.4 L662.7 255.3 L666.1 254.1 L669.5 252.9 L671.9 252.1 L674.2 251.3 L676.7 250.5 L679.1 249.7 L681.6 248.9 L684.1 248.2 L686.7 247.5 L689.3 246.8 L691.9 246.1 L694.6 245.4 L697.3 244.7 L700.0 244.0 L701.4 243.6"/><path d="M685.0 341.4 L682.7 340.0 L680.5 338.6 L678.4 337.3 L675.4 335.2 L672.5 333.3 L669.8 331.3 L667.2 329.4 L664.7 327.5 L662.4 325.6 L660.2 323.8 L658.1 322.0 L656.1 320.2 L654.3 318.4 L652.3 316.1 L650.5 313.8 L649.0 311.5 L647.7 309.3 L646.5 306.6 L645.7 304.0 L645.3 301.5 L645.3 298.9 L645.6 296.5 L646.2 294.1 L647.2 291.8 L648.5 289.4 L650.1 287.2 L652.0 285.1 L654.2 282.9 L656.2 281.2 L658.3 279.6 L660.6 277.9 L663.1 276.2 L665.7 274.5 L668.4 272.7 L670.5 271.4 L672.7 270.1 L675.0 268.8 L677.4 267.5 L679.8 266.1 L682.3 264.8 L685.0 263.5 L687.7 262.1 L690.4 260.8 L693.3 259.5 L696.3 258.2 L699.4 256.9 L701.5 256.1"/><path d="M701.4 324.8 L699.4 322.9 L697.6 321.1 L695.9 319.3 L693.9 317.0 L692.2 314.7 L690.6 312.4 L689.3 310.2 L688.0 307.5 L687.1 304.8 L686.6 302.2 L686.3 299.7 L686.4 297.2 L686.9 294.8 L687.7 292.4 L688.8 290.1 L690.2 287.8 L691.9 285.6 L693.9 283.4 L695.7 281.7 L697.7 280.0 L699.8 278.3 L701.5 277.0"/></g><path d="M101.30 297.30 H111.80 Q113.30 297.30 113.30 298.80 V320.80 Q113.30 322.30 111.80 322.30 H101.30 Z" fill="rgba(132,190,242,0.77)"/><path d="M148.00 287.50 H158.50 Q160.00 287.50 160.00 289.00 V320.80 Q160.00 322.30 158.50 322.30 H148.00 Z" fill="rgba(132,190,242,0.77)"/><path d="M196.20 262.10 H207.00 Q208.50 262.10 208.50 263.60 V320.80 Q208.50 322.30 207.00 322.30 H196.20 Z" fill="rgba(132,190,242,0.77)"/><path d="M244.40 212.10 H255.00 Q256.50 212.10 256.50 213.60 V320.80 Q256.50 322.30 255.00 322.30 H244.40 Z" fill="rgba(132,190,242,0.77)"/><path d="M294.40 132.50 H305.50 Q307.00 132.50 307.00 134.00 V320.80 Q307.00 322.30 305.50 322.30 H294.40 Z" fill="rgba(132,190,242,0.77)"/><path d="M339.60 99.80 H350.80 Q352.30 99.80 352.30 101.30 V320.80 Q352.30 322.30 350.80 322.30 H339.60 Z" fill="rgba(132,190,242,0.77)"/><path d="M390.00 75.40 H399.80 Q401.30 75.40 401.30 76.90 V320.80 Q401.30 322.30 399.80 322.30 H390.00 Z" fill="rgba(132,190,242,0.77)"/><path d="M439.40 88.00 H449.80 Q451.30 88.00 451.30 89.50 V320.80 Q451.30 322.30 449.80 322.30 H439.40 Z" fill="rgba(132,190,242,0.77)"/><path d="M488.70 128.30 H499.10 Q500.60 128.30 500.60 129.80 V320.80 Q500.60 322.30 499.10 322.30 H488.70 Z" fill="rgba(132,190,242,0.77)"/><path d="M536.90 176.60 H547.30 Q548.80 176.60 548.80 178.10 V320.80 Q548.80 322.30 547.30 322.30 H536.90 Z" fill="rgba(132,190,242,0.77)"/><path d="M586.00 249.70 H596.30 Q597.80 249.70 597.80 251.20 V320.80 Q597.80 322.30 596.30 322.30 H586.00 Z" fill="rgba(132,190,242,0.77)"/><path d="M634.40 280.50 H644.30 Q645.80 280.50 645.80 282.00 V320.80 Q645.80 322.30 644.30 322.30 H634.40 Z" fill="rgba(132,190,242,0.77)"/><path d="M87.65 322.30 V297.00 H91.25" fill="none" stroke="#ffffff" stroke-opacity="0.3" stroke-width="1.2"/><path d="M88.25 297.60 H99.80 Q101.30 297.60 101.30 299.10 V322.30 H88.25 Z" fill="url(#b1)"/><path d="M88.25 298.10 H99.80" stroke="#0a4a9a" stroke-opacity="0.35" stroke-width="1"/><path d="M99.80 298.23 Q101.92 298.23 101.92 299.40 V321.00 Q101.92 322.30 100.10 322.30" fill="none" stroke="url(#eg)" stroke-width="1.25"/><path d="M133.80 322.30 V287.50 H137.40" fill="none" stroke="#ffffff" stroke-opacity="0.3" stroke-width="1.2"/><path d="M134.40 288.10 H146.50 Q148.00 288.10 148.00 289.60 V322.30 H134.40 Z" fill="url(#b2)"/><path d="M134.40 288.60 H146.50" stroke="#0a4a9a" stroke-opacity="0.35" stroke-width="1"/><path d="M146.50 288.73 Q148.62 288.73 148.62 289.90 V321.00 Q148.62 322.30 146.80 322.30" fill="none" stroke="url(#eg)" stroke-width="1.25"/><path d="M182.90 322.30 V262.30 H186.50" fill="none" stroke="#ffffff" stroke-opacity="0.3" stroke-width="1.2"/><path d="M183.50 262.90 H194.70 Q196.20 262.90 196.20 264.40 V322.30 H183.50 Z" fill="url(#b3)"/><path d="M183.50 263.40 H194.70" stroke="#0a4a9a" stroke-opacity="0.35" stroke-width="1"/><path d="M194.70 263.52 Q196.82 263.52 196.82 264.70 V321.00 Q196.82 322.30 195.00 322.30" fill="none" stroke="url(#eg)" stroke-width="1.25"/><path d="M230.90 322.30 V212.40 H234.50" fill="none" stroke="#ffffff" stroke-opacity="0.3" stroke-width="1.2"/><path d="M231.50 213.00 H242.90 Q244.40 213.00 244.40 214.50 V322.30 H231.50 Z" fill="url(#b4)"/><path d="M231.50 213.50 H242.90" stroke="#0a4a9a" stroke-opacity="0.35" stroke-width="1"/><path d="M242.90 213.62 Q245.03 213.62 245.03 214.80 V321.00 Q245.03 322.30 243.20 322.30" fill="none" stroke="url(#eg)" stroke-width="1.25"/><path d="M281.30 322.30 V132.60 H284.90" fill="none" stroke="#ffffff" stroke-opacity="0.3" stroke-width="1.2"/><path d="M281.90 133.20 H292.20 Q294.40 133.20 294.40 135.40 V322.30 H281.90 Z" fill="url(#b5)"/><path d="M281.90 133.70 H292.20" stroke="#0a4a9a" stroke-opacity="0.35" stroke-width="1"/><path d="M292.20 133.82 Q295.02 133.82 295.02 135.70 V321.00 Q295.02 322.30 293.20 322.30" fill="none" stroke="url(#eg)" stroke-width="1.25"/><path d="M327.20 322.30 V99.70 H330.80" fill="none" stroke="#ffffff" stroke-opacity="0.3" stroke-width="1.2"/><path d="M327.80 100.30 H337.40 Q339.60 100.30 339.60 102.50 V322.30 H327.80 Z" fill="url(#b6)"/><path d="M327.80 100.80 H337.40" stroke="#0a4a9a" stroke-opacity="0.35" stroke-width="1"/><path d="M337.40 100.92 Q340.23 100.92 340.23 102.80 V321.00 Q340.23 322.30 338.40 322.30" fill="none" stroke="url(#eg)" stroke-width="1.25"/><path d="M376.50 322.30 V75.40 H380.10" fill="none" stroke="#ffffff" stroke-opacity="0.3" stroke-width="1.2"/><path d="M377.10 76.00 H387.80 Q390.00 76.00 390.00 78.20 V322.30 H377.10 Z" fill="url(#b7)"/><path d="M377.10 76.50 H387.80" stroke="#0a4a9a" stroke-opacity="0.35" stroke-width="1"/><path d="M387.80 76.62 Q390.62 76.62 390.62 78.50 V321.00 Q390.62 322.30 388.80 322.30" fill="none" stroke="url(#eg)" stroke-width="1.25"/><path d="M426.30 322.30 V88.10 H429.90" fill="none" stroke="#ffffff" stroke-opacity="0.3" stroke-width="1.2"/><path d="M426.90 88.70 H437.20 Q439.40 88.70 439.40 90.90 V322.30 H426.90 Z" fill="url(#b8)"/><path d="M426.90 89.20 H437.20" stroke="#0a4a9a" stroke-opacity="0.35" stroke-width="1"/><path d="M437.20 89.33 Q440.02 89.33 440.02 91.20 V321.00 Q440.02 322.30 438.20 322.30" fill="none" stroke="url(#eg)" stroke-width="1.25"/><path d="M475.00 322.30 V128.80 H478.60" fill="none" stroke="#ffffff" stroke-opacity="0.3" stroke-width="1.2"/><path d="M475.60 129.40 H486.50 Q488.70 129.40 488.70 131.60 V322.30 H475.60 Z" fill="url(#b9)"/><path d="M475.60 129.90 H486.50" stroke="#0a4a9a" stroke-opacity="0.35" stroke-width="1"/><path d="M486.50 130.03 Q489.32 130.03 489.32 131.90 V321.00 Q489.32 322.30 487.50 322.30" fill="none" stroke="url(#eg)" stroke-width="1.25"/><path d="M523.80 322.30 V176.90 H527.40" fill="none" stroke="#ffffff" stroke-opacity="0.3" stroke-width="1.2"/><path d="M524.40 177.50 H534.70 Q536.90 177.50 536.90 179.70 V322.30 H524.40 Z" fill="url(#b10)"/><path d="M524.40 178.00 H534.70" stroke="#0a4a9a" stroke-opacity="0.35" stroke-width="1"/><path d="M534.70 178.12 Q537.52 178.12 537.52 180.00 V321.00 Q537.52 322.30 535.70 322.30" fill="none" stroke="url(#eg)" stroke-width="1.25"/><path d="M572.40 322.30 V249.60 H576.00" fill="none" stroke="#ffffff" stroke-opacity="0.3" stroke-width="1.2"/><path d="M573.00 250.20 H584.50 Q586.00 250.20 586.00 251.70 V322.30 H573.00 Z" fill="url(#b11)"/><path d="M573.00 250.70 H584.50" stroke="#0a4a9a" stroke-opacity="0.35" stroke-width="1"/><path d="M584.50 250.82 Q586.62 250.82 586.62 252.00 V321.00 Q586.62 322.30 584.80 322.30" fill="none" stroke="url(#eg)" stroke-width="1.25"/><path d="M620.40 322.30 V280.70 H624.00" fill="none" stroke="#ffffff" stroke-opacity="0.3" stroke-width="1.2"/><path d="M621.00 281.30 H632.90 Q634.40 281.30 634.40 282.80 V322.30 H621.00 Z" fill="url(#b12)"/><path d="M621.00 281.80 H632.90" stroke="#0a4a9a" stroke-opacity="0.35" stroke-width="1"/><path d="M632.90 281.93 Q635.02 281.93 635.02 283.10 V321.00 Q635.02 322.30 633.20 322.30" fill="none" stroke="url(#eg)" stroke-width="1.25"/><path d="M116.50 325.00 H126.70 Q128.20 325.00 128.20 326.50 V344.00 Q128.20 345.50 126.70 345.50 H116.50 Z" fill="rgba(132,190,242,0.77)"/><rect x="103.30" y="324.80" width="13.20" height="21.70" fill="url(#n13)"/><line x1="116.90" y1="324.80" x2="116.90" y2="346.50" stroke="#201010" stroke-width="1"/><path d="M163.40 325.00 H173.70 Q175.20 325.00 175.20 326.50 V341.70 Q175.20 343.20 173.70 343.20 H163.40 Z" fill="rgba(132,190,242,0.77)"/><rect x="149.40" y="324.80" width="14.00" height="19.40" fill="url(#n14)"/><line x1="163.80" y1="324.80" x2="163.80" y2="344.20" stroke="#201010" stroke-width="1"/><path d="M211.80 325.00 H221.50 Q223.00 325.00 223.00 326.50 V333.00 Q223.00 334.50 221.50 334.50 H211.80 Z" fill="rgba(132,190,242,0.77)"/><rect x="198.00" y="324.80" width="13.80" height="10.70" fill="url(#n15)"/><line x1="212.20" y1="324.80" x2="212.20" y2="335.50" stroke="#201010" stroke-width="1"/><path d="M259.80 292.50 H269.50 Q271.00 292.50 271.00 294.00 V320.80 Q271.00 322.30 269.50 322.30 H259.80 Z" fill="rgba(132,190,242,0.77)"/><path d="M246.00 293.20 H258.30 Q259.80 293.20 259.80 294.70 V322.30 H246.00 Z" fill="url(#r16)"/><path d="M246.00 293.70 H258.30" stroke="#0a4a9a" stroke-opacity="0.35" stroke-width="1"/><path d="M258.30 293.82 Q260.43 293.82 260.43 295.00 V321.00 Q260.43 322.30 258.60 322.30" fill="none" stroke="url(#eg)" stroke-width="1.25"/><path d="M309.60 238.70 H320.30 Q321.80 238.70 321.80 240.20 V320.80 Q321.80 322.30 320.30 322.30 H309.60 Z" fill="rgba(132,190,242,0.77)"/><path d="M296.30 239.10 H308.10 Q309.60 239.10 309.60 240.60 V322.30 H296.30 Z" fill="url(#r17)"/><path d="M296.30 239.60 H308.10" stroke="#0a4a9a" stroke-opacity="0.35" stroke-width="1"/><path d="M308.10 239.72 Q310.23 239.72 310.23 240.90 V321.00 Q310.23 322.30 308.40 322.30" fill="none" stroke="url(#eg)" stroke-width="1.25"/><path d="M355.50 189.20 H365.30 Q366.80 189.20 366.80 190.70 V320.80 Q366.80 322.30 365.30 322.30 H355.50 Z" fill="rgba(132,190,242,0.77)"/><path d="M341.80 190.00 H353.30 Q355.50 190.00 355.50 192.20 V322.30 H341.80 Z" fill="url(#r18)"/><path d="M341.80 190.50 H353.30" stroke="#0a4a9a" stroke-opacity="0.35" stroke-width="1"/><path d="M353.30 190.62 Q356.12 190.62 356.12 192.50 V321.00 Q356.12 322.30 354.30 322.30" fill="none" stroke="url(#eg)" stroke-width="1.25"/><path d="M405.00 164.50 H410.30 Q411.80 164.50 411.80 166.00 V320.80 Q411.80 322.30 410.30 322.30 H405.00 Z" fill="rgba(132,190,242,0.77)"/><path d="M391.50 165.20 H402.80 Q405.00 165.20 405.00 167.40 V322.30 H391.50 Z" fill="url(#b19)"/><path d="M391.50 165.70 H402.80" stroke="#0a4a9a" stroke-opacity="0.35" stroke-width="1"/><path d="M402.80 165.82 Q405.62 165.82 405.62 167.70 V321.00 Q405.62 322.30 403.80 322.30" fill="none" stroke="url(#eg)" stroke-width="1.25"/><path d="M454.50 176.20 H464.00 Q465.50 176.20 465.50 177.70 V320.80 Q465.50 322.30 464.00 322.30 H454.50 Z" fill="rgba(132,190,242,0.77)"/><path d="M440.50 177.20 H452.30 Q454.50 177.20 454.50 179.40 V322.30 H440.50 Z" fill="url(#r20)"/><path d="M440.50 177.70 H452.30" stroke="#0a4a9a" stroke-opacity="0.35" stroke-width="1"/><path d="M452.30 177.82 Q455.12 177.82 455.12 179.70 V321.00 Q455.12 322.30 453.30 322.30" fill="none" stroke="url(#eg)" stroke-width="1.25"/><path d="M503.80 211.00 H513.50 Q515.00 211.00 515.00 212.50 V320.80 Q515.00 322.30 513.50 322.30 H503.80 Z" fill="rgba(132,190,242,0.77)"/><path d="M490.00 212.00 H502.30 Q503.80 212.00 503.80 213.50 V322.30 H490.00 Z" fill="url(#r21)"/><path d="M490.00 212.50 H502.30" stroke="#0a4a9a" stroke-opacity="0.35" stroke-width="1"/><path d="M502.30 212.62 Q504.43 212.62 504.43 213.80 V321.00 Q504.43 322.30 502.60 322.30" fill="none" stroke="url(#eg)" stroke-width="1.25"/><path d="M552.50 249.50 H562.50 Q564.00 249.50 564.00 251.00 V320.80 Q564.00 322.30 562.50 322.30 H552.50 Z" fill="rgba(132,190,242,0.77)"/><path d="M538.50 250.30 H551.00 Q552.50 250.30 552.50 251.80 V322.30 H538.50 Z" fill="url(#r22)"/><path d="M538.50 250.80 H551.00" stroke="#0a4a9a" stroke-opacity="0.35" stroke-width="1"/><path d="M551.00 250.93 Q553.12 250.93 553.12 252.10 V321.00 Q553.12 322.30 551.30 322.30" fill="none" stroke="url(#eg)" stroke-width="1.25"/><path d="M601.50 292.20 H611.30 Q612.80 292.20 612.80 293.70 V320.80 Q612.80 322.30 611.30 322.30 H601.50 Z" fill="rgba(132,190,242,0.77)"/><path d="M587.50 293.00 H600.00 Q601.50 293.00 601.50 294.50 V322.30 H587.50 Z" fill="url(#r23)"/><path d="M587.50 293.50 H600.00" stroke="#0a4a9a" stroke-opacity="0.35" stroke-width="1"/><path d="M600.00 293.62 Q602.12 293.62 602.12 294.80 V321.00 Q602.12 322.30 600.30 322.30" fill="none" stroke="url(#eg)" stroke-width="1.25"/><rect x="67.1" y="37.6" width="2.3" height="298.2" fill="#080818"/><rect x="58" y="323" width="596.7" height="1.9" fill="#080818"/><text x="58.2" y="56.90" text-anchor="end" style="font-family:&quot;DejaVu Sans Condensed&quot;,&quot;DejaVu Sans&quot;,sans-serif;font-stretch:condensed;font-size:14px" fill="#101018" stroke="#101018" stroke-width="0.12">120</text><text x="58.2" y="102.07" text-anchor="end" style="font-family:&quot;DejaVu Sans Condensed&quot;,&quot;DejaVu Sans&quot;,sans-serif;font-stretch:condensed;font-size:14px" fill="#101018" stroke="#101018" stroke-width="0.12">100</text><text x="58.2" y="147.24" text-anchor="end" style="font-family:&quot;DejaVu Sans Condensed&quot;,&quot;DejaVu Sans&quot;,sans-serif;font-stretch:condensed;font-size:14px" fill="#101018" stroke="#101018" stroke-width="0.12">80</text><text x="58.2" y="192.41" text-anchor="end" style="font-family:&quot;DejaVu Sans Condensed&quot;,&quot;DejaVu Sans&quot;,sans-serif;font-stretch:condensed;font-size:14px" fill="#101018" stroke="#101018" stroke-width="0.12">60</text><text x="58.2" y="237.58" text-anchor="end" style="font-family:&quot;DejaVu Sans Condensed&quot;,&quot;DejaVu Sans&quot;,sans-serif;font-stretch:condensed;font-size:14px" fill="#101018" stroke="#101018" stroke-width="0.12">40</text><text x="58.2" y="282.75" text-anchor="end" style="font-family:&quot;DejaVu Sans Condensed&quot;,&quot;DejaVu Sans&quot;,sans-serif;font-stretch:condensed;font-size:14px" fill="#101018" stroke="#101018" stroke-width="0.12">20</text><text x="58.2" y="327.92" text-anchor="end" style="font-family:&quot;DejaVu Sans Condensed&quot;,&quot;DejaVu Sans&quot;,sans-serif;font-stretch:condensed;font-size:14px" fill="#101018" stroke="#101018" stroke-width="0.12">0</text><text x="58.2" y="373.09" text-anchor="end" style="font-family:&quot;DejaVu Sans Condensed&quot;,&quot;DejaVu Sans&quot;,sans-serif;font-stretch:condensed;font-size:14px" fill="#101018" stroke="#101018" stroke-width="0.12">-20</text><text transform="translate(98.20 354.0) rotate(-90)" x="0" y="0" text-anchor="end" textLength="46.40" lengthAdjust="spacingAndGlyphs" style="font-family:&quot;DejaVu Sans Condensed&quot;,&quot;DejaVu Sans&quot;,sans-serif;font-stretch:condensed;font-size:14px" fill="#101018" stroke="#101018" stroke-width="0.3">January</text><text transform="translate(146.00 354.0) rotate(-90)" x="0" y="0" text-anchor="end" textLength="53.90" lengthAdjust="spacingAndGlyphs" style="font-family:&quot;DejaVu Sans Condensed&quot;,&quot;DejaVu Sans&quot;,sans-serif;font-stretch:condensed;font-size:14px" fill="#101018" stroke="#101018" stroke-width="0.3">February</text><text transform="translate(195.15 354.0) rotate(-90)" x="0" y="0" text-anchor="end" style="font-family:&quot;DejaVu Sans Condensed&quot;,&quot;DejaVu Sans&quot;,sans-serif;font-stretch:condensed;font-size:14px" fill="#101018" stroke="#101018" stroke-width="0.3">March</text><text transform="translate(243.60 354.0) rotate(-90)" x="0" y="0" text-anchor="end" style="font-family:&quot;DejaVu Sans Condensed&quot;,&quot;DejaVu Sans&quot;,sans-serif;font-stretch:condensed;font-size:14px" fill="#101018" stroke="#101018" stroke-width="0.3">April</text><text transform="translate(291.90 354.0) rotate(-90)" x="0" y="0" text-anchor="end" style="font-family:&quot;DejaVu Sans Condensed&quot;,&quot;DejaVu Sans&quot;,sans-serif;font-stretch:condensed;font-size:14px" fill="#101018" stroke="#101018" stroke-width="0.3">May</text><text transform="translate(340.50 354.0) rotate(-90)" x="0" y="0" text-anchor="end" style="font-family:&quot;DejaVu Sans Condensed&quot;,&quot;DejaVu Sans&quot;,sans-serif;font-stretch:condensed;font-size:14px" fill="#101018" stroke="#101018" stroke-width="0.3">June</text><text transform="translate(388.15 354.0) rotate(-90)" x="0" y="0" text-anchor="end" style="font-family:&quot;DejaVu Sans Condensed&quot;,&quot;DejaVu Sans&quot;,sans-serif;font-stretch:condensed;font-size:14px" fill="#101018" stroke="#101018" stroke-width="0.3">July</text><text transform="translate(438.50 354.0) rotate(-90)" x="0" y="0" text-anchor="end" textLength="42.20" lengthAdjust="spacingAndGlyphs" style="font-family:&quot;DejaVu Sans Condensed&quot;,&quot;DejaVu Sans&quot;,sans-serif;font-stretch:condensed;font-size:14px" fill="#101018" stroke="#101018" stroke-width="0.3">August</text><text transform="translate(486.20 354.0) rotate(-90)" x="0" y="0" text-anchor="end" textLength="68.60" lengthAdjust="spacingAndGlyphs" style="font-family:&quot;DejaVu Sans Condensed&quot;,&quot;DejaVu Sans&quot;,sans-serif;font-stretch:condensed;font-size:14px" fill="#101018" stroke="#101018" stroke-width="0.3">September</text><text transform="translate(535.10 354.0) rotate(-90)" x="0" y="0" text-anchor="end" style="font-family:&quot;DejaVu Sans Condensed&quot;,&quot;DejaVu Sans&quot;,sans-serif;font-stretch:condensed;font-size:14px" fill="#101018" stroke="#101018" stroke-width="0.3">October</text><text transform="translate(584.00 354.0) rotate(-90)" x="0" y="0" text-anchor="end" style="font-family:&quot;DejaVu Sans Condensed&quot;,&quot;DejaVu Sans&quot;,sans-serif;font-stretch:condensed;font-size:14px" fill="#101018" stroke="#101018" stroke-width="0.3">November</text><text transform="translate(632.90 354.0) rotate(-90)" x="0" y="0" text-anchor="end" style="font-family:&quot;DejaVu Sans Condensed&quot;,&quot;DejaVu Sans&quot;,sans-serif;font-stretch:condensed;font-size:14px" fill="#101018" stroke="#101018" stroke-width="0.3">December</text></svg></body></html>
